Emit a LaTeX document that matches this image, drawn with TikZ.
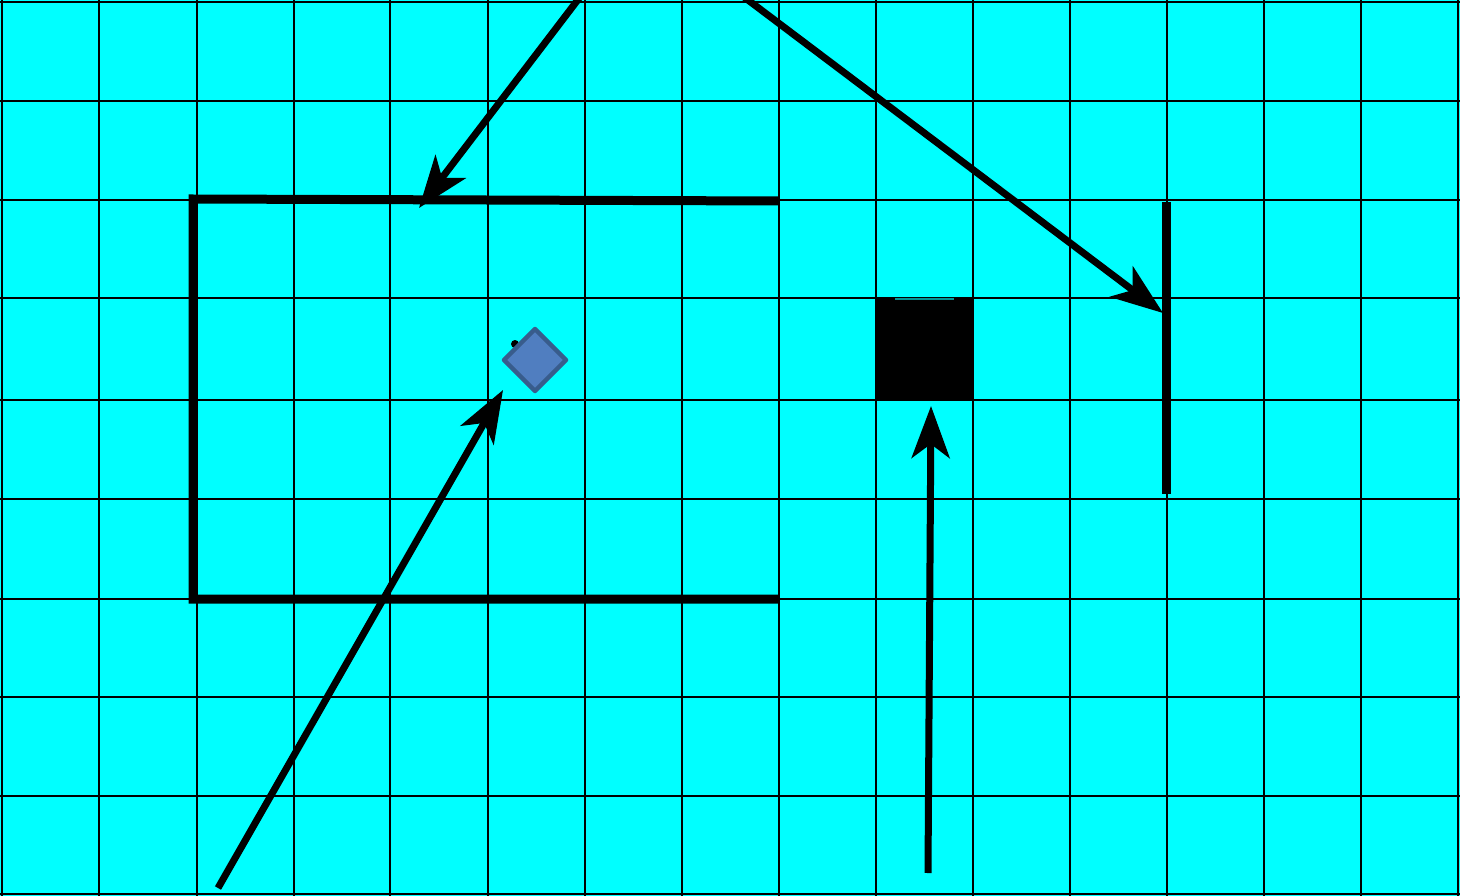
\documentclass[tikz,border=0pt]{standalone}
\usepackage{xcolor}
\usetikzlibrary{arrows.meta}
\definecolor{floor}{RGB}{0,255,255}
\definecolor{markfill}{RGB}{80,126,192}
\definecolor{markedge}{RGB}{56,92,140}
\definecolor{seam}{RGB}{0,150,150}

\begin{document}
\begin{tikzpicture}[x=1pt,y=-1pt,>={Stealth[length=52pt,width=38pt,inset=14pt]},
 gridline/.style={draw=black,line width=1.4pt},
 boldgrid/.style={draw=black,line width=2.6pt},
 wall/.style={draw=black,line width=9pt},
 ray/.style={->,draw=black,line width=7pt}]
\useasboundingbox (0,0) rectangle (1460,896);
\fill[floor] (0,0) rectangle (1460,896);
% grid
\foreach \x in {99,197,294,488,682,779,973,1167,1264,1361}
  \draw[gridline] (\x,0) -- (\x,896);
\foreach \x in {2,390,585,876,1070,1458}
  \draw[boldgrid] (\x,0) -- (\x,896);
\foreach \y in {200,298,697,796}
  \draw[gridline] (0,\y) -- (1460,\y);
\foreach \y in {2,101,400,499,599,894}
  \draw[boldgrid] (0,\y) -- (1460,\y);
% walls
\draw[wall] (779,201) -- (193,199) -- (193,599) -- (779,599);
\draw[wall] (1166,202) -- (1166,494);
% block and marker
\fill[black] (876,298) rectangle (973,400);
\draw[seam,line width=1.5pt] (895,299) -- (954,299);
\fill[black] (515,344) circle (4);
\draw[markedge,fill=markfill,line width=4.5pt,line join=round]
  (535,329) -- (566,360) -- (535,391) -- (504,360) -- cycle;
% rays
\coordinate (srcA) at (580,-3);
\coordinate (tipA) at (419,208);
\coordinate (srcB) at (744,-3);
\coordinate (tipB) at (1163,313);
\coordinate (srcC) at (218,888);
\coordinate (tipC) at (503,390);
\coordinate (srcD) at (928,873);
\coordinate (tipD) at (931,406);
\draw[ray] (srcA) -- (tipA);
\draw[ray] (srcB) -- (tipB);
\draw[ray] (srcC) -- (tipC);
\draw[ray] (srcD) -- (tipD);
\end{tikzpicture}
\end{document}
